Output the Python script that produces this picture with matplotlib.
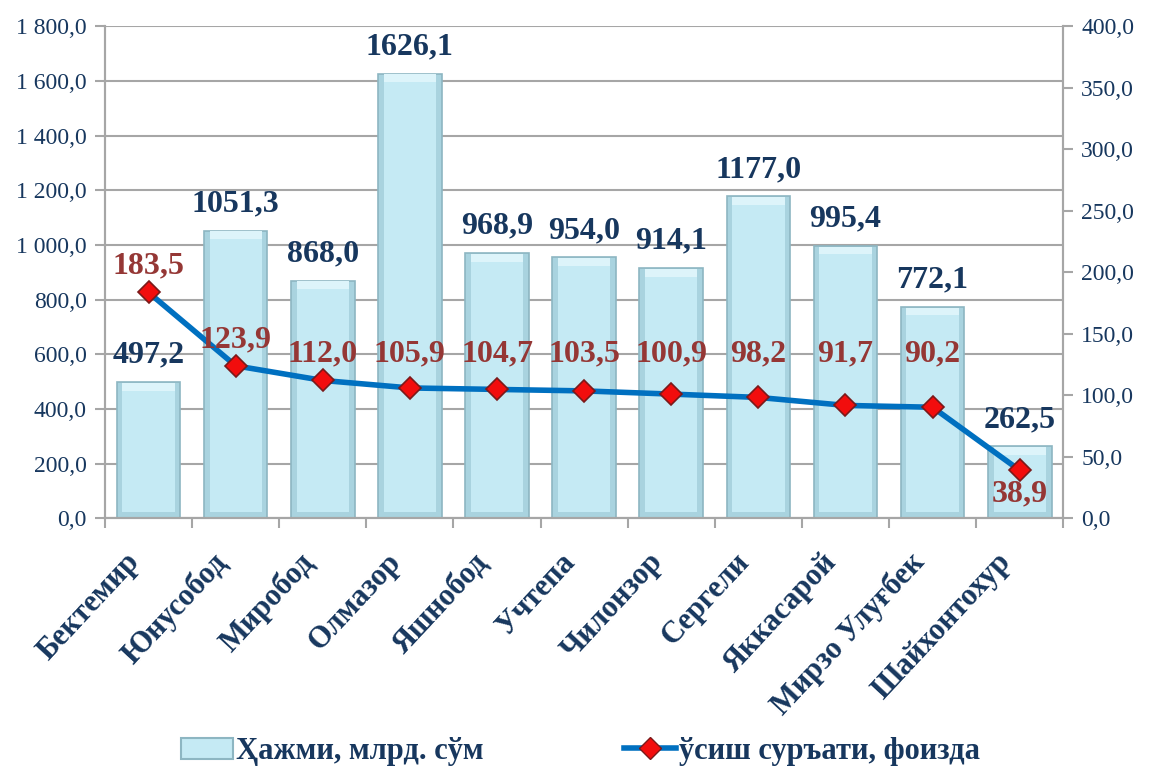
import matplotlib
matplotlib.use("Agg")
import matplotlib.pyplot as plt
from matplotlib.ticker import FixedLocator, FuncFormatter
from matplotlib.lines import Line2D
from matplotlib.patches import Patch
from matplotlib.transforms import ScaledTranslation

districts = ["Бектемир", "Юнусобод", "Миробод", "Олмазор", "Яшнобод", "Учтепа",
             "Чилонзор", "Сергели", "Яккасарой", "Мирзо Улуғбек", "Шайхонтохур"]
volume = [497.2, 1051.3, 868.0, 1626.1, 968.9, 954.0, 914.1, 1177.0, 995.4, 772.1, 262.5]
growth = [183.5, 123.9, 112.0, 105.9, 104.7, 103.5, 100.9, 98.2, 91.7, 90.2, 38.9]
left_ticks = [0, 200, 400, 600, 800, 1000, 1200, 1400, 1600, 1800]
right_ticks = [0, 50, 100, 150, 200, 250, 300, 350, 400]
legend_bar = "Ҳажми, млрд. сўм"
legend_line = "ўсиш суръати, фоизда"

FONT = ["Liberation Serif", "DejaVu Serif"]
plt.rcParams["font.family"] = FONT
NAVY = "#17375E"
DRED = "#953735"
GRID = "#A6A6A6"

fig = plt.figure(figsize=(11.49, 7.70), dpi=100)
ax = fig.add_axes([0.0914, 0.327, 0.834, 0.639])
ax2 = ax.twinx()

x = list(range(len(districts)))

def fmt(v, pos=None):
    return f"{v:,.1f}".replace(",", " ").replace(".", ",")

ax.set_xlim(-0.5, len(districts) - 0.5)
ax.set_ylim(0, 1800)
ax2.set_ylim(0, 400)

ax.set_axisbelow(True)
ax.yaxis.set_major_locator(FixedLocator(left_ticks))
ax.yaxis.set_major_formatter(FuncFormatter(fmt))
ax2.yaxis.set_major_locator(FixedLocator(right_ticks))
ax2.yaxis.set_major_formatter(FuncFormatter(lambda v, p: f"{v:.1f}".replace(".", ",")))
ax.grid(axis="y", which="major", color=GRID, linewidth=1.5)

ax.set_xticks(x)
ax.set_xticklabels(districts, rotation=47, ha="right", rotation_mode="anchor",
                   fontsize=22, fontweight="bold", color=NAVY)
ax.set_xticks([i - 0.5 for i in range(len(districts) + 1)], minor=True)
ax.tick_params(axis="x", which="major", length=0, pad=14)
ax.tick_params(axis="x", which="minor", length=7, color=GRID, width=1.5)
ax.tick_params(axis="y", length=7, color=GRID, width=1.5, labelsize=17, labelcolor=NAVY, pad=6)
ax2.tick_params(axis="y", length=7, color=GRID, width=1.5, labelsize=17, labelcolor=NAVY, pad=6)
shift = ScaledTranslation(-0.24, -0.10, fig.dpi_scale_trans)
for lbl in ax.get_xticklabels():
    lbl.set_transform(lbl.get_transform() + shift)

for a in (ax, ax2):
    for s in a.spines.values():
        s.set_color(GRID)
        s.set_linewidth(1.5)
    a.spines["top"].set_visible(False)

# bars with bevel-like look
bw = 0.73
ax.bar(x, volume, width=bw, color="#A9D3DF", edgecolor="#8DB6C2", linewidth=1.2, zorder=2)
inset_w = bw - 0.13
inset_h = [max(v - 50, 0) for v in volume]
ax.bar(x, inset_h, width=inset_w, bottom=[22] * len(x), color="#C5EAF4",
       edgecolor="none", linewidth=0, zorder=2)
top_h = [28] * len(x)
ax.bar(x, top_h, width=inset_w, bottom=[v - 30 for v in volume], color="#DDF4FA",
       edgecolor="none", linewidth=0, zorder=2)

for xi, v in zip(x, volume):
    ax.annotate(fmt(v).replace(" ", ""), (xi, v), xytext=(0, 9), textcoords="offset points",
                ha="center", va="bottom", fontsize=23, fontweight="bold", color=NAVY, zorder=5)

ax2.plot(x, growth, color="#0070C0", linewidth=4, marker="D", markersize=11,
         markerfacecolor="#F20D0D", markeredgecolor="#7A1A1A", markeredgewidth=1.2, zorder=4)

level = growth[2]
for i, (xi, g) in enumerate(zip(x, growth)):
    lab = f"{g:.1f}".replace(".", ",")
    if i == len(x) - 1:
        ax2.annotate(lab, (xi, g), xytext=(0, -17), textcoords="offset points",
                     ha="center", va="center", fontsize=23, fontweight="bold", color=DRED, zorder=6)
    else:
        ax2.annotate(lab, (xi, max(g, level)), xytext=(0, 19), textcoords="offset points",
                     ha="center", va="center", fontsize=23, fontweight="bold", color=DRED, zorder=6)

handles = [Patch(facecolor="#C5EAF4", edgecolor="#8DB6C2", linewidth=1.5),
           Line2D([0], [0], color="#0070C0", linewidth=4, marker="D", markersize=11,
                  markerfacecolor="#F20D0D", markeredgecolor="#7A1A1A")]
leg = fig.legend(handles, [legend_bar, legend_line], loc="center", bbox_to_anchor=(0.505, 0.024),
                 ncol=2, frameon=False, columnspacing=4.6, handlelength=1.7, handletextpad=0.1,
                 prop={"family": FONT, "size": 22, "weight": "bold"})
for t in leg.get_texts():
    t.set_color(NAVY)

fig.savefig("out.png", dpi=100)
